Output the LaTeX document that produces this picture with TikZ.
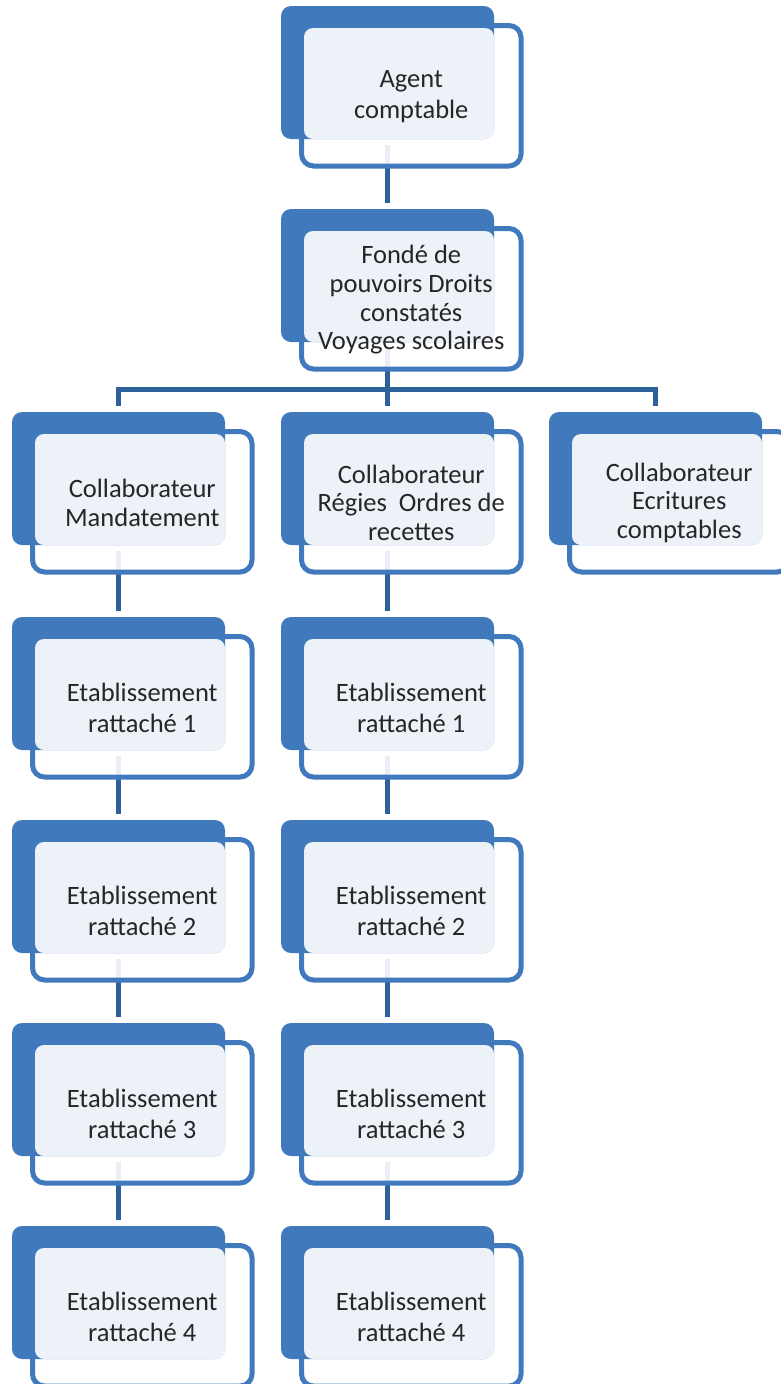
\documentclass[tikz,border=0pt]{standalone}
\usepackage{fontspec}
\setmainfont{Carlito}
\usepackage{tikz}
\usetikzlibrary{calc,backgrounds}

\definecolor{unitblue}{RGB}{64,122,189}
\definecolor{linkblue}{RGB}{44,97,153}
\definecolor{unitpale}{RGB}{237,242,248}
\definecolor{unittext}{RGB}{38,38,38}

\tikzset{
	frontbox/.style={draw=unitblue, line width=5pt, fill=white, fill opacity=0.9,
		rounded corners=12pt, minimum width=219.5pt, minimum height=140.5pt,
		inner sep=0pt, outer sep=0pt},
	backbox/.style={fill=unitblue, rounded corners=10pt, minimum width=213pt,
		minimum height=133pt, inner sep=0pt, outer sep=0pt},
	unittxt/.style={text=unittext, align=center, font=\fontsize{26.5}{30.7}\selectfont},
	tight/.style={font=\fontsize{26.5}{28.8}\selectfont},
	link/.style={draw=linkblue, line width=5.5pt, shorten <=6pt, shorten >=6pt}
}

% #1 extra text style, #2 name, #3 left of back box, #4 top of back box, #5 text
\newcommand{\orgunit}[5][]{%
	\node[frontbox] (#2) at (#3+130.25, #4+89.75) {};
	\node[backbox] (#2-b) at (#3+106.5, #4+66.5) {};
	\fill[unitpale, rounded corners=9pt] ($(#2.north west)+(2.5,2.5)$) rectangle (#2-b.south east);
	\node[unittxt, #1] (#2-t) at ($(#2)+(0,1)$) {#5};
}

\begin{document}
\begin{tikzpicture}[x=1pt, y=-1pt]
	\useasboundingbox (0,0) rectangle (781,1384);
	\clip (0,0) rectangle (781,1384);

	\orgunit{agent}{281}{6}{Agent\\comptable}
	\orgunit[tight]{fonde}{281}{209}{Fondé de\\pouvoirs Droits\\constatés\\Voyages scolaires}
	\orgunit[tight]{colm}{12}{412}{Collaborateur\\Mandatement}
	\orgunit[tight]{colr}{281}{412}{Collaborateur\\Régies~~Ordres de\\recettes}
	\orgunit[tight]{cole}{549}{412}{Collaborateur\\Ecritures\\comptables}

	\foreach \i/\y in {1/617, 2/820, 3/1023, 4/1226} {
		\orgunit{etm\i}{12}{\y}{Etablissement\\rattaché \i}
		\orgunit{etr\i}{281}{\y}{Etablissement\\rattaché \i}
	}

	\coordinate (bus) at (387.5, 389.5);

	\begin{scope}[on background layer]
		\draw[link] (agent-b) -- (fonde-b);
		\draw[link] (fonde-b) -- (colr-b);
		\draw[link] (colm-b.north) |- (bus) -| (cole-b.north);
		\draw[link] (colm-b) -- (etm1-b);
		\draw[link] (colr-b) -- (etr1-b);
		\foreach \a/\b in {1/2, 2/3, 3/4} {
			\draw[link] (etm\a-b) -- (etm\b-b);
			\draw[link] (etr\a-b) -- (etr\b-b);
		}
	\end{scope}
\end{tikzpicture}
\end{document}
